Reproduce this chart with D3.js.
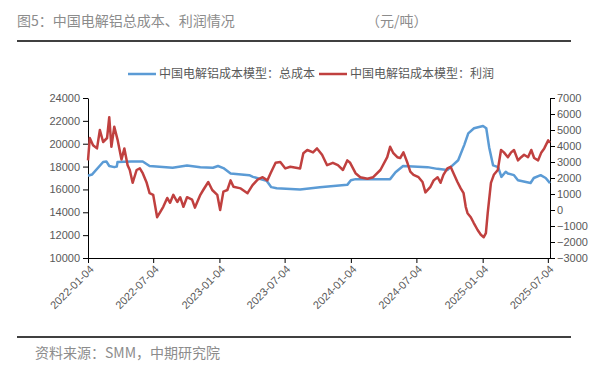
<!DOCTYPE html>
<html>
<head>
<meta charset="utf-8">
<script src="https://cdn.jsdelivr.net/npm/d3@7/dist/d3.min.js"></script>
<style>
  body { margin: 0; background: #fff; }
  svg { display: block; }
  .axis text { font-family: "Liberation Sans", Arial, sans-serif; font-size: 11px; fill: #595959; }
  .axis path, .axis line { stroke: #000; }
</style>
</head>
<body>
<svg width="599" height="370"></svg>
<script>
// total cost (left axis, yuan/t)
var costDates = ["2022-01-04","2022-01-15","2022-02-15","2022-02-24","2022-03-04","2022-03-18","2022-03-25","2022-03-27",
  "2022-05-04","2022-06-05","2022-06-24","2022-08-27","2022-10-06","2022-11-12","2022-12-17","2022-12-31",
  "2023-01-15","2023-02-04","2023-03-28","2023-04-07","2023-05-15","2023-05-28","2023-06-12","2023-08-16",
  "2023-10-10","2023-12-25","2024-01-04","2024-01-17","2024-04-22","2024-05-07","2024-05-28","2024-08-04",
  "2024-08-31","2024-09-28","2024-10-07","2024-10-28","2024-11-14","2024-11-25","2024-12-11","2025-01-05",
  "2025-01-14","2025-01-22","2025-02-02","2025-02-16","2025-02-25","2025-03-09","2025-03-15","2025-04-01",
  "2025-04-12","2025-05-17","2025-05-26","2025-06-14","2025-06-28","2025-07-10"];
var costValues = [17200,17300,18400,18450,18050,17950,18000,18400,
  18450,18450,18050,17900,18100,17950,17900,18050,
  17870,17400,17250,17100,16750,16200,16100,16000,
  16200,16400,16800,16900,16900,17500,18050,17950,
  17800,17700,17950,18550,19900,20900,21350,21550,
  21350,19700,18100,17950,17100,17550,17400,17250,
  16800,16560,17000,17250,17000,16550];

// profit (right axis, yuan/t)
var profitDates = ["2022-01-04","2022-01-09","2022-01-18","2022-01-29","2022-02-06","2022-02-15","2022-02-26","2022-03-04",
  "2022-03-10","2022-03-18","2022-03-27","2022-04-07","2022-04-15","2022-04-24","2022-04-30","2022-05-08",
  "2022-05-19","2022-05-28","2022-06-05","2022-06-16","2022-06-24","2022-07-04","2022-07-15","2022-07-23",
  "2022-08-01","2022-08-12","2022-08-20","2022-08-29","2022-09-09","2022-09-17","2022-09-26","2022-10-06",
  "2022-10-20","2022-10-28","2022-11-12","2022-11-20","2022-12-04","2022-12-15","2022-12-29","2023-01-06",
  "2023-01-15","2023-01-26","2023-02-04","2023-02-12","2023-03-04","2023-03-23","2023-04-06","2023-04-20",
  "2023-05-04","2023-05-17","2023-05-26","2023-06-09","2023-06-22","2023-07-06","2023-07-20","2023-08-16",
  "2023-08-25","2023-09-05","2023-09-21","2023-10-02","2023-10-16","2023-10-30","2023-11-15","2023-11-29",
  "2023-12-13","2023-12-25","2024-01-02","2024-01-17","2024-01-30","2024-02-19","2024-03-06","2024-03-26",
  "2024-04-14","2024-04-22","2024-05-01","2024-05-12","2024-05-20","2024-05-29","2024-06-09","2024-06-17",
  "2024-06-26","2024-07-10","2024-07-21","2024-07-29","2024-08-12","2024-08-21","2024-09-01","2024-09-09",
  "2024-09-17","2024-09-28","2024-10-07","2024-10-15","2024-10-26","2024-11-04","2024-11-12","2024-11-18",
  "2024-11-23","2024-12-02","2024-12-10","2024-12-21","2024-12-30","2025-01-07","2025-01-13","2025-01-18",
  "2025-01-27","2025-02-04","2025-02-15","2025-02-24","2025-03-04","2025-03-15","2025-03-24","2025-04-01",
  "2025-04-12","2025-04-21","2025-04-29","2025-05-10","2025-05-19","2025-05-27","2025-06-07","2025-06-16",
  "2025-06-24","2025-07-05","2025-07-10"];
var profitValues = [3100,4500,4050,3850,5000,4250,4500,5800,
  3950,5200,4400,3150,3850,2800,2500,1700,
  2500,2600,2300,1700,1050,950,-450,-150,
  200,750,450,950,500,800,200,800,
  650,150,950,1250,1750,1250,950,0,
  1150,1250,1850,1450,1350,1050,1550,1900,
  2050,1850,2300,2950,3000,2600,2700,2600,
  3550,3750,3600,3850,3450,2800,2950,2800,
  2500,3100,2950,2300,2050,1950,2050,2500,
  3300,3950,3550,3300,3250,3600,2950,2400,
  2200,2050,1750,1100,1450,1850,2050,1700,
  2200,2600,2700,2300,1750,1350,1050,200,
  -200,-450,-800,-1250,-1550,-1700,-1450,-200,
  1700,2200,2500,3750,3600,3300,3600,3750,
  3100,3300,3450,3300,3750,3250,3100,3600,
  3850,4350,4200];

var xTicks = ["2022-01-04","2022-07-04","2023-01-04","2023-07-04","2024-01-04","2024-07-04","2025-01-04","2025-07-04"];
var leftTicks = [10000,12000,14000,16000,18000,20000,22000,24000];
var rightTicks = [-3000,-2000,-1000,0,1000,2000,3000,4000,5000,6000,7000];
var seriesNames = ["中国电解铝成本模型：总成本", "中国电解铝成本模型：利润"];
var colors = ["#5b9bd5", "#c0403f"];

var parse = d3.timeParse("%Y-%m-%d");
var svg = d3.select("svg");

var x = d3.scaleTime()
    .domain([parse("2022-01-04"), parse("2025-07-10")])
    .range([88, 550]);
var yL = d3.scaleLinear().domain([10000, 24000]).range([258, 98]);
var yR = d3.scaleLinear().domain([-3000, 7000]).range([258, 98]);

// header / footer
svg.append("text").attr("x", 17).attr("y", 26)
    .style("font-family", "'Noto Sans CJK SC', sans-serif").style("font-size", "14px")
    .style("fill", "#8c8c8c").text("图5：中国电解铝总成本、利润情况");
svg.append("text").attr("x", 366).attr("y", 26)
    .style("font-family", "'Noto Sans CJK SC', sans-serif").style("font-size", "14px")
    .style("fill", "#8c8c8c").text("（元/吨）");
svg.append("line").attr("x1", 17).attr("x2", 571).attr("y1", 41).attr("y2", 41)
    .attr("stroke", "#000").attr("stroke-width", 1.5);
svg.append("line").attr("x1", 17).attr("x2", 571).attr("y1", 337).attr("y2", 337)
    .attr("stroke", "#000").attr("stroke-width", 1.5);
svg.append("text").attr("x", 35).attr("y", 358)
    .style("font-family", "'Noto Sans CJK SC', sans-serif").style("font-size", "14px")
    .style("fill", "#8c8c8c").text("资料来源：SMM，中期研究院");

// axes
svg.append("g").attr("class", "axis")
    .attr("transform", "translate(88,0)")
    .call(d3.axisLeft(yL).tickValues(leftTicks).tickSize(5).tickSizeOuter(0).tickPadding(3).tickFormat(d3.format("d")));

svg.append("g").attr("class", "axis")
    .attr("transform", "translate(550,0)")
    .call(d3.axisRight(yR).tickValues(rightTicks).tickSize(5).tickSizeOuter(0).tickPadding(2).tickFormat(d3.format("d")));

var xAxis = svg.append("g").attr("class", "axis")
    .attr("transform", "translate(0,258)")
    .call(d3.axisBottom(x).tickValues(xTicks.map(parse)).tickSize(5).tickSizeOuter(0)
        .tickFormat(d3.timeFormat("%Y-%m-%d")));
xAxis.selectAll("text")
    .attr("text-anchor", "end")
    .attr("dx", null).attr("dy", null)
    .attr("x", 0).attr("y", 0)
    .attr("transform", "translate(6,12) rotate(-45)");

// lines
var costData = costDates.map(function (d, i) { return { date: parse(d), value: costValues[i] }; });
var profitData = profitDates.map(function (d, i) { return { date: parse(d), value: profitValues[i] }; });

svg.append("path").datum(costData)
    .attr("fill", "none").attr("stroke", colors[0]).attr("stroke-width", 2.5)
    .attr("stroke-linejoin", "round")
    .attr("d", d3.line().x(function (d) { return x(d.date); }).y(function (d) { return yL(d.value); }));

svg.append("path").datum(profitData)
    .attr("fill", "none").attr("stroke", colors[1]).attr("stroke-width", 2.5)
    .attr("stroke-linejoin", "round")
    .attr("d", d3.line().x(function (d) { return x(d.date); }).y(function (d) { return yR(d.value); }));

// legend
var legend = svg.append("g");
var lx = 128;
seriesNames.forEach(function (name, i) {
    legend.append("line").attr("x1", lx).attr("x2", lx + 28).attr("y1", 74).attr("y2", 74)
        .attr("stroke", colors[i]).attr("stroke-width", 2.5);
    var t = legend.append("text").attr("x", lx + 31).attr("y", 78)
        .style("font-family", "'Noto Sans CJK SC', sans-serif").style("font-size", "12px")
        .style("fill", "#595959").text(name);
    lx += 31 + t.node().getComputedTextLength() + 4;
});
</script>
</body>
</html>
